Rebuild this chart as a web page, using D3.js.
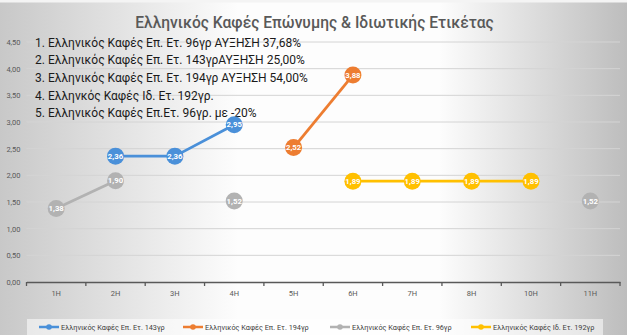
<!DOCTYPE html>
<html>
<head>
<meta charset="utf-8">
<script src="https://cdn.jsdelivr.net/npm/d3@7"></script>
<style>
  html, body { margin: 0; padding: 0; background: #fff; }
  svg { display: block; }
</style>
</head>
<body>
<svg id="chart" width="627" height="335"></svg>
<script>
// Categories along the x axis (there is no 9H)
const categories = ["1H", "2H", "3H", "4H", "5H", "6H", "7H", "8H", "10H", "11H"];

// Series values per category (null = no value)
const seriesNames = [
  "Ελληνικός Καφές Επ. Ετ. 143γρ",
  "Ελληνικός Καφές Επ. Ετ. 194γρ",
  "Ελληνικός Καφές Επ. Ετ. 96γρ",
  "Ελληνικός Καφές Ιδ. Ετ. 192γρ"
];
const values143 = [null, 2.36, 2.36, 2.95, null, null, null, null, null, null];
const values194 = [null, null, null, null, 2.52, 3.88, null, null, null, null];
const values96  = [1.38, 1.90, null, 1.52, null, null, null, null, null, 1.52];
const values192 = [null, null, null, null, null, 1.89, 1.89, 1.89, 1.89, null];
const seriesColors = ["#4a90d9", "#ed7d31", "#b2b2b2", "#ffc000"];

// Y axis ticks
const yTicks = [0, 0.5, 1, 1.5, 2, 2.5, 3, 3.5, 4, 4.5];

// Notes written over the plot
const notes = [
  "1. Ελληνικός Καφές Επ. Ετ. 96γρ ΑΥΞΗΣΗ 37,68%",
  "2. Ελληνικός Καφές Επ. Ετ. 143γρΑΥΞΗΣΗ 25,00%",
  "3. Ελληνικός Καφές Επ. Ετ. 194γρ ΑΥΞΗΣΗ 54,00%",
  "4. Ελληνκός Καφές Ιδ. Ετ. 192γρ.",
  "5. Ελληνικός Καφές Επ.Ετ. 96γρ. με -20%"
];
const title = "Ελληνικός Καφές Επώνυμης & Ιδιωτικής Ετικέτας";

const W = 627, H = 335;
const svg = d3.select("#chart");
const FONT = "Roboto, 'Open Sans', 'DejaVu Sans', sans-serif";
const fmt = v => d3.format(".2f")(v).replace(".", ",");

// Background: grey edges fading to white in the middle
const defs = svg.append("defs");
const bg = defs.append("linearGradient").attr("id", "bg").attr("x1", "0").attr("x2", "1").attr("y1", "0").attr("y2", "0");
bg.append("stop").attr("offset", "0%").attr("stop-color", "#c8c8c8");
bg.append("stop").attr("offset", "38%").attr("stop-color", "#fdfdfd");
bg.append("stop").attr("offset", "70%").attr("stop-color", "#fdfdfd");
bg.append("stop").attr("offset", "100%").attr("stop-color", "#bdbdbd");
svg.append("rect").attr("width", W).attr("height", H).attr("fill", "url(#bg)");
svg.append("rect").attr("x", 0).attr("y", 0).attr("width", W).attr("height", 2.5).attr("fill", "#f4f4f4");

// Scales
const plot = { left: 26.5, right: 620, top: 42, bottom: 282 };
const x = d3.scaleBand().domain(categories).range([plot.left, plot.right]);
const y = d3.scaleLinear().domain([0, 4.5]).range([plot.bottom, plot.top]);

// Gridlines
svg.append("g").selectAll("line").data(yTicks.filter(d => d > 0)).join("line")
  .attr("x1", plot.left).attr("x2", plot.right)
  .attr("y1", d => y(d)).attr("y2", d => y(d))
  .attr("stroke", "#d4d4d4").attr("stroke-width", 1);

// Y axis labels
const yAxis = svg.append("g").attr("transform", `translate(${plot.left - 6},0)`)
  .call(d3.axisLeft(y).tickValues(yTicks).tickFormat(fmt).tickSize(0).tickPadding(0));
yAxis.select(".domain").remove();
yAxis.selectAll("text").attr("font-family", FONT).attr("font-size", 7.5).attr("fill", "#595959");

// X axis
const xAxis = svg.append("g").attr("transform", `translate(0,${plot.bottom})`)
  .call(d3.axisBottom(x).tickSize(0).tickPadding(9));
xAxis.select(".domain").attr("stroke", "#595959").attr("stroke-width", 1.3);
xAxis.selectAll("text").attr("font-family", FONT).attr("font-size", 7.5).attr("fill", "#595959");
// Tick marks sit on the category boundaries
svg.append("g").selectAll("line")
  .data(categories.map(c => x(c)).concat([x(categories[categories.length - 1]) + x.bandwidth()]))
  .join("line")
  .attr("x1", d => d).attr("x2", d => d)
  .attr("y1", plot.bottom).attr("y2", plot.bottom + 4)
  .attr("stroke", "#595959").attr("stroke-width", 1.3);

// Title
svg.append("text").attr("x", 314.5).attr("y", 28).attr("text-anchor", "middle")
  .attr("font-family", FONT).attr("font-weight", 500).attr("font-size", 15.6)
  .attr("fill", "#595959").text(title);

// Notes block
svg.append("g").selectAll("text").data(notes).join("text")
  .attr("x", 35).attr("y", (d, i) => 46.5 + i * 17.7)
  .attr("font-family", FONT).attr("font-size", 12).attr("fill", "#1a1a1a")
  .text(d => d);

// Series lines and markers
const allSeries = [values143, values194, values96, values192];
const cx = i => x(categories[i]) + x.bandwidth() / 2;
const line = d3.line().defined(d => d.v != null).x(d => cx(d.i)).y(d => y(d.v));

allSeries.forEach((vals, s) => {
  const pts = vals.map((v, i) => ({ v, i }));
  svg.append("path").datum(pts).attr("d", line)
    .attr("fill", "none").attr("stroke", seriesColors[s]).attr("stroke-width", 2.8)
    .attr("stroke-linejoin", "round");
  const g = svg.append("g").selectAll("g").data(pts.filter(d => d.v != null)).join("g")
    .attr("transform", d => `translate(${cx(d.i)},${y(d.v)})`);
  g.append("circle").attr("r", 8.5).attr("fill", seriesColors[s]);
  g.append("text").attr("text-anchor", "middle").attr("dy", "0.35em")
    .attr("font-family", FONT).attr("font-weight", 700).attr("font-size", 7.8)
    .attr("fill", "#ffffff").text(d => fmt(d.v));
});

// Legend
svg.append("rect").attr("x", 27).attr("y", 319).attr("width", 576).attr("height", 16)
  .attr("fill", "#ffffff").attr("opacity", 0.55);
const legendX = [39, 183, 330, 471];
const lg = svg.append("g").selectAll("g").data(seriesNames).join("g")
  .attr("transform", (d, i) => `translate(${legendX[i]},327)`);
lg.append("line").attr("x1", 0).attr("x2", 20).attr("stroke", (d, i) => seriesColors[i]).attr("stroke-width", 2.5);
lg.append("circle").attr("cx", 10).attr("r", 2.8).attr("fill", (d, i) => seriesColors[i]);
lg.append("text").attr("x", 22).attr("dy", "0.35em")
  .attr("font-family", FONT).attr("font-size", 7.3).attr("fill", "#404040")
  .text(d => d);
</script>
</body>
</html>
